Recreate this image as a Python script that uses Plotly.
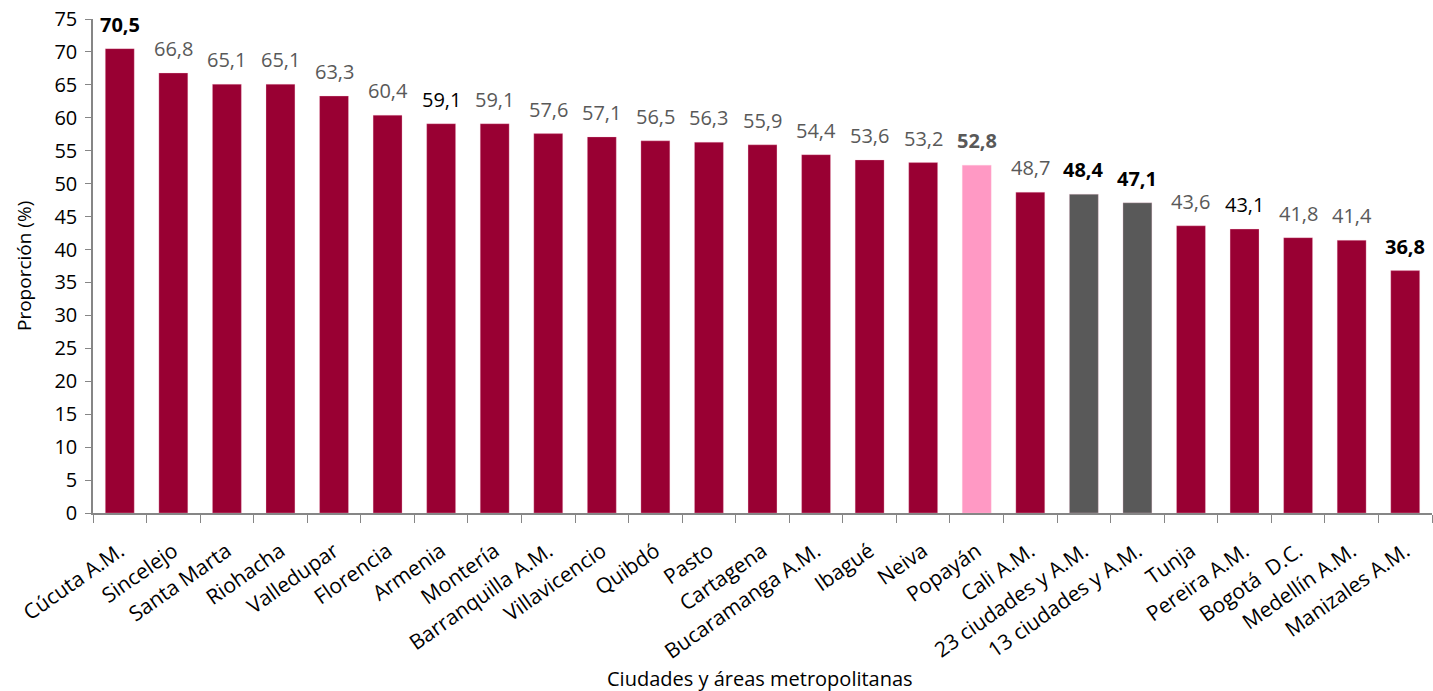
import plotly.graph_objects as go

categories = ["Cúcuta A.M.", "Sincelejo", "Santa Marta", "Riohacha", "Valledupar", "Florencia",
              "Armenia", "Montería", "Barranquilla A.M.", "Villavicencio", "Quibdó", "Pasto",
              "Cartagena", "Bucaramanga A.M.", "Ibagué", "Neiva", "Popayán", "Cali A.M.",
              "23 ciudades y A.M.", "13 ciudades y A.M.", "Tunja", "Pereira A.M.", "Bogotá  D.C.",
              "Medellín A.M.", "Manizales A.M."]
values = [70.5, 66.8, 65.1, 65.1, 63.3, 60.4, 59.1, 59.1, 57.6, 57.1, 56.5, 56.3, 55.9, 54.4,
          53.6, 53.2, 52.8, 48.7, 48.4, 47.1, 43.6, 43.1, 41.8, 41.4, 36.8]
y_ticks = list(range(0, 80, 5))

CRIMSON = "#990033"
PINK = "#FF99C4"
GRAY = "#595959"

bar_colors = []
label_colors = []
label_texts = []
for c, v in zip(categories, values):
    txt = f"{v:.1f}".replace(".", ",")
    if c == "Popayán":
        bar_colors.append(PINK)
        label_colors.append(GRAY)
        label_texts.append(f"<b>{txt}</b>")
    elif c.startswith("23") or c.startswith("13"):
        bar_colors.append(GRAY)
        label_colors.append("#000000")
        label_texts.append(f"<b>{txt}</b>")
    elif c in ("Cúcuta A.M.", "Manizales A.M."):
        bar_colors.append(CRIMSON)
        label_colors.append("#000000")
        label_texts.append(f"<b>{txt}</b>")
    elif c in ("Armenia", "Pereira A.M."):
        bar_colors.append(CRIMSON)
        label_colors.append("#000000")
        label_texts.append(txt)
    else:
        bar_colors.append(CRIMSON)
        label_colors.append(GRAY)
        label_texts.append(txt)

FONT = "Open Sans"

fig = go.Figure(go.Bar(
    x=categories, y=values,
    marker=dict(color=bar_colors, line=dict(color="rgba(255,200,220,0.6)", width=0.5)),
    width=0.54,
    hoverinfo="x+y",
))

for c, v, t, col in zip(categories, values, label_texts, label_colors):
    fig.add_annotation(x=c, y=v, text=t, showarrow=False, yanchor="bottom", yshift=9,
                       font=dict(family=FONT, size=20, color=col))

fig.update_layout(
    width=1433, height=691,
    margin=dict(l=93, r=1, t=19, b=178),
    paper_bgcolor="white", plot_bgcolor="white",
    showlegend=False,
    font=dict(family=FONT, color="#000000"),
)
fig.update_yaxes(
    range=[0, 75], tickvals=y_ticks, ticktext=[str(t) for t in y_ticks],
    showgrid=False, zeroline=False, automargin=False,
    showline=True, linecolor="#868686", linewidth=1.5,
    ticks="outside", ticklen=6, tickcolor="#868686", ticklabelstandoff=4,
    tickfont=dict(family=FONT, size=20, color="#000000"),
)
fig.update_xaxes(
    showgrid=False, showline=True, linecolor="#868686", linewidth=1.5, automargin=False,
    ticks="outside", ticklen=8, tickcolor="#868686", tickson="boundaries",
    tickangle=-35, ticklabelstandoff=16, tickfont=dict(family=FONT, size=21, color="#000000"),
)
fig.add_annotation(text="Ciudades y áreas metropolitanas", xref="paper", yref="paper",
                   x=(760 - 93) / (1433 - 94), y=0, yshift=-165, showarrow=False,
                   font=dict(family=FONT, size=20, color="#000000"), xanchor="center", yanchor="middle")
fig.add_annotation(text="Proporción (%)", xref="paper", yref="paper",
                   x=0, xshift=-69, y=0.5, textangle=-90, showarrow=False,
                   font=dict(family=FONT, size=19, color="#000000"), xanchor="center", yanchor="middle")

fig.write_html("out.html", config={"displayModeBar": False},
               post_script="document.body.style.margin='0';document.body.style.overflow='hidden';")
